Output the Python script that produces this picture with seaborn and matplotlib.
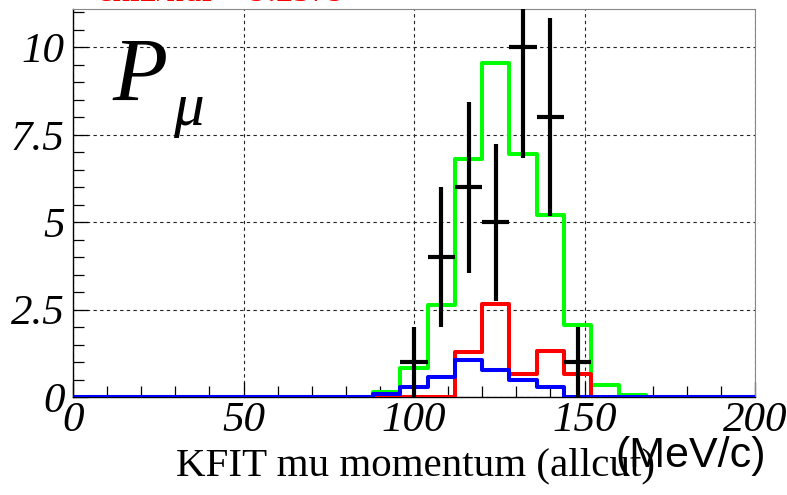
import numpy as np
import pandas as pd
import matplotlib
matplotlib.use("Agg")
import matplotlib.pyplot as plt
import seaborn as sns
from matplotlib.ticker import MultipleLocator

# ---- data ----
bin_edges = [0, 8, 16, 24, 32, 40, 48, 56, 64, 72, 80, 88, 96, 104, 112, 120,
             128, 136, 144, 152, 160, 168, 176, 184, 192, 200]
green_vals = [0, 0, 0, 0, 0, 0, 0, 0, 0, 0, 0, 0.13, 0.84, 2.63, 6.8, 9.55,
              6.96, 5.21, 2.06, 0.34, 0.05, 0, 0, 0, 0]
red_vals = [0, 0, 0, 0, 0, 0, 0, 0, 0, 0, 0, 0, 0, 0, 1.3, 2.66,
            0.65, 1.32, 0.65, 0, 0, 0, 0, 0, 0]
blue_vals = [0, 0, 0, 0, 0, 0, 0, 0, 0, 0, 0, 0.08, 0.3, 0.58, 1.06, 0.77,
             0.49, 0.3, 0, 0, 0, 0, 0, 0, 0]
data_x = [100, 108, 116, 124, 132, 140, 148]
data_y = [1, 4, 6, 5, 10, 8, 1]
data_err = [1, 2, 2.45, 2.24, 3.16, 2.83, 1]
data_xerr = [4, 4, 4, 4, 4, 4, 4]
x_ticks = [0, 50, 100, 150, 200]
y_ticks = [0, 2.5, 5, 7.5, 10]
y_tick_labels = ["0", "2.5", "5", "7.5", "10"]

sns.set_style("ticks")
plt.rcParams['font.family'] = ['Liberation Serif', 'DejaVu Serif']
plt.rcParams['text.color'] = 'black'
plt.rcParams['xtick.color'] = 'black'
plt.rcParams['ytick.color'] = 'black'
plt.rcParams['xtick.labelcolor'] = 'black'
plt.rcParams['ytick.labelcolor'] = 'black'

fig = plt.figure(figsize=(7.87, 4.95), dpi=100)
ax = fig.add_axes([73/787, 1 - 397/495, (755-73)/787, (397-9)/495])

centers = [(bin_edges[i] + bin_edges[i+1]) / 2 for i in range(len(bin_edges) - 1)]
for vals, col in [(green_vals, "#00ff00"), (red_vals, "#ff0000"), (blue_vals, "#0000ff")]:
    df = pd.DataFrame({"x": centers, "w": vals})
    sns.histplot(data=df, x="x", weights="w", bins=bin_edges, element="step",
                 fill=False, color=col, linewidth=2.9, ax=ax, zorder=3)

ax.errorbar(data_x, data_y, yerr=data_err, xerr=data_xerr, fmt="none",
            ecolor="black", elinewidth=3.0, capsize=0, zorder=4)

ax.set_xlim(0, 200)
ax.set_ylim(0, 11.1)
ax.set_xticks(x_ticks)
ax.set_xticklabels([str(v) for v in x_ticks])
ax.set_yticks(y_ticks)
ax.set_yticklabels(y_tick_labels)
ax.xaxis.set_minor_locator(MultipleLocator(10))
ax.yaxis.set_minor_locator(MultipleLocator(0.5))
ax.tick_params(axis="both", which="major", direction="in", length=11, width=0.9,
               labelsize=31, top=False, right=False)
ax.tick_params(axis="both", which="minor", direction="in", length=8, width=0.9,
               top=False, right=False)
ax.tick_params(axis="x", pad=3)
ax.tick_params(axis="y", pad=6)
for lab in ax.get_xticklabels() + ax.get_yticklabels():
    lab.set_fontstyle("italic")
    lab.set_color("black")

ax.grid(True, which="major", color="#222222", linestyle=(0, (3, 3)), linewidth=0.8)
ax.set_axisbelow(True)
ax.set_xlabel("")
ax.set_ylabel("")
for s in ["left", "bottom"]:
    ax.spines[s].set_color("black")
    ax.spines[s].set_linewidth(1.0)
ax.spines["top"].set_color("#888888")
ax.spines["right"].set_color("#888888")

# Labels
fig.text(415/787, 1 - 466/495, "KFIT mu momentum (allcut)", ha="center", va="center",
         fontsize=29.5, family=["Liberation Serif"])
fig.text(766/787, 1 - 456/495, "(MeV/c)", ha="right", va="center",
         fontsize=31, family=["Liberation Sans"])
ax.text(0.058, 0.82, "P", transform=ax.transAxes, fontsize=65, style="italic",
        family=["Liberation Serif"], ha="left", va="center")
ax.text(0.146, 0.74, "μ", transform=ax.transAxes, fontsize=44, style="italic",
        family=["Liberation Serif"], ha="left", va="center")
fig.text(97/787, 1 - 1/495, "chi2/ndf = 9.2379", color="red", fontsize=25,
         family=["Liberation Serif"], ha="left", va="baseline")

fig.savefig("out.png", dpi=100)
